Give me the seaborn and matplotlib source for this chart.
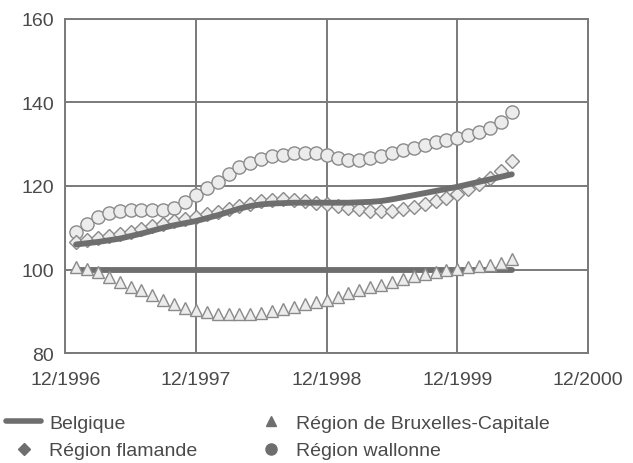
import numpy as np
import pandas as pd
import matplotlib
matplotlib.use("Agg")
import matplotlib.pyplot as plt
import seaborn as sns
from matplotlib.lines import Line2D

# months since 12/1996
months = list(range(1, 42))

belgique = [106.0, 106.3, 106.6, 107.0, 107.4, 108.0, 108.6, 109.3, 110.0, 110.6,
            111.1, 111.6, 112.3, 113.0, 113.8, 114.6, 115.2, 115.6, 115.8, 115.9,
            116.0, 116.0, 116.0, 116.0, 116.0, 116.0, 116.1, 116.2, 116.4, 116.8,
            117.3, 117.8, 118.3, 118.8, 119.3, 119.8, 120.4, 121.0, 121.6, 122.2,
            122.8]

flamande = [106.7, 107.0, 107.5, 108.0, 108.4, 108.9, 109.6, 110.3, 111.0, 111.5,
            112.0, 112.6, 113.2, 113.7, 114.4, 115.1, 115.8, 116.3, 116.7, 116.8,
            116.7, 116.4, 116.0, 115.6, 115.1, 114.8, 114.4, 114.1, 113.9, 114.0,
            114.4, 115.0, 115.6, 116.3, 117.2, 118.2, 119.3, 120.5, 121.8, 123.5,
            126.0]

bruxelles = [100.5, 100.2, 99.3, 98.2, 97.0, 95.9, 95.0, 94.0, 92.8, 91.7,
             90.8, 90.2, 89.8, 89.4, 89.3, 89.3, 89.4, 89.7, 90.0, 90.5,
             91.1, 91.8, 92.3, 92.8, 93.5, 94.3, 95.0, 95.7, 96.4, 97.1,
             97.8, 98.4, 98.9, 99.4, 99.8, 100.2, 100.5, 100.8, 101.2, 101.6,
             102.4]

wallonne = [109.0, 111.0, 112.5, 113.5, 114.0, 114.3, 114.3, 114.2, 114.2, 114.8,
            116.2, 117.8, 119.5, 121.0, 122.8, 124.5, 125.6, 126.5, 127.1, 127.5,
            127.8, 128.0, 127.8, 127.4, 126.8, 126.3, 126.2, 126.6, 127.1, 127.8,
            128.6, 129.2, 129.7, 130.5, 131.1, 131.6, 132.3, 133.0, 134.0, 135.3,
            137.6]

base = [100.0] * len(months)

tick_pos = [0, 12, 24, 36, 48]
tick_labels = ['12/1996', '12/1997', '12/1998', '12/1999', '12/2000']

sns.set_style("white")
plt.rcParams['font.family'] = ['Liberation Sans', 'DejaVu Sans']

grey = '#6e6e6e'
text_grey = '#4a4a4a'
fill = '#ececec'
edge = '#8a8a8a'

fig = plt.figure(figsize=(6.33, 4.64), dpi=100)
ax = fig.add_axes([0.103, 0.237, 0.826, 0.72])

df = pd.DataFrame({'m': months, 'base': base, 'bel': belgique, 'fla': flamande,
                   'bru': bruxelles, 'wal': wallonne})

sns.lineplot(data=df, x='m', y='base', ax=ax, color=grey, lw=4.2, zorder=3)
sns.lineplot(data=df, x='m', y='bru', ax=ax, color=edge, lw=0, marker='^',
             markersize=9, markerfacecolor=fill, markeredgecolor=edge,
             markeredgewidth=1, zorder=4)
sns.lineplot(data=df, x='m', y='wal', ax=ax, color=edge, lw=0, marker='o',
             markersize=9.5, markerfacecolor=fill, markeredgecolor=edge,
             markeredgewidth=1, zorder=4)
sns.lineplot(data=df, x='m', y='fla', ax=ax, color=edge, lw=0, marker='D',
             markersize=7, markerfacecolor=fill, markeredgecolor=edge,
             markeredgewidth=1, zorder=5)
sns.lineplot(data=df, x='m', y='bel', ax=ax, color=grey, lw=4.2, zorder=6)

ax.set_xlim(0, 48)
ax.set_ylim(80, 160)
ax.set_xticks(tick_pos)
ax.set_xticklabels(tick_labels)
ax.set_yticks([80, 100, 120, 140, 160])
ax.set_xlabel('')
ax.set_ylabel('')
ax.grid(True, color='#7a7a7a', lw=1.4)
ax.set_axisbelow(True)
for s in ax.spines.values():
    s.set_color('#7a7a7a')
    s.set_linewidth(1.4)
ax.tick_params(axis='both', direction='out', length=7, width=1.2, color='#7a7a7a',
               labelsize=14, labelcolor=text_grey)
ax.tick_params(axis='x', pad=6)
ax.tick_params(axis='y', pad=1)

handles = [
    Line2D([], [], color=grey, lw=4),
    Line2D([], [], color=grey, lw=0, marker='D', markersize=6),
    Line2D([], [], color=grey, lw=0, marker='^', markersize=7),
    Line2D([], [], color=grey, lw=0, marker='o', markersize=8),
]
labels = ['Belgique', 'Région flamande', 'Région de Bruxelles-Capitale', 'Région wallonne']
fig.legend(handles, labels, ncol=2, loc='lower left', bbox_to_anchor=(-0.018, -0.03),
           frameon=False, fontsize=14, labelcolor=text_grey, handlelength=1.8,
           handletextpad=0.4, columnspacing=2.9, labelspacing=0.5)

fig.savefig('out.png', dpi=100, facecolor='white')
